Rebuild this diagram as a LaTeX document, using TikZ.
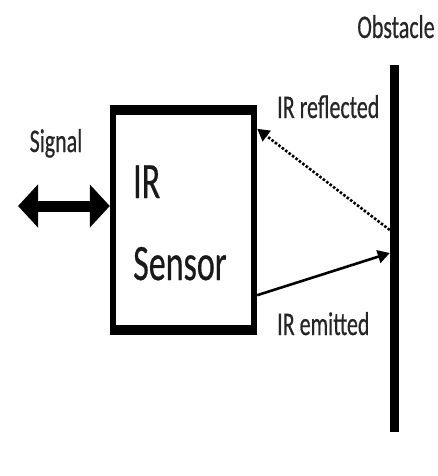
\documentclass[tikz,border=0pt]{standalone}
\usepackage{fontspec}
\usepackage{graphicx}
\setmainfont{Carlito}
\newfontfamily\lblfont{Carlito}[BoldFont={Carlito}, BoldFeatures={FakeBold=0.6}]
\usetikzlibrary{arrows.meta}
\newcommand{\vtx}[1]{\scalebox{1}[1.5]{\lblfont\bfseries #1}}
\tikzset{
  lbl/.style={inner sep=0pt, text=black!85, font=\fontsize{22}{24}\selectfont},
  biglbl/.style={inner sep=0pt, text=black!90, font=\fontsize{34}{36}\selectfont},
  sigarrow/.style={line width=11pt, {Triangle[length=20pt,width=42pt]}-{Triangle[length=20pt,width=42pt]}},
  beam/.style={line width=2.6pt, -{Triangle[length=12pt,width=13pt]}},
  dottedbeam/.style={beam, dash pattern=on 2.5pt off 1.8pt}
}
\begin{document}
\begin{tikzpicture}[x=1pt,y=-1pt]
\useasboundingbox (0,0) rectangle (438,476);
% sensor box
\node[minimum width=147pt, minimum height=230pt, inner sep=0pt] (sensor) at (183.5,220) {};
\fill[black] (sensor.south west) rectangle (sensor.north east);
\fill[white] ([xshift=6pt,yshift=-10pt]sensor.north west) rectangle ([xshift=-6pt,yshift=10pt]sensor.south east);
% obstacle bar
\node[fill=black, minimum width=9pt, minimum height=367pt, inner sep=0pt] (obstacle) at (394.5,248.5) {};
% labels
\node[lbl, anchor=base] (tobst) at (396,38) {\vtx{Obstacle}};
\node[lbl, anchor=base] (tsig) at (56,152) {\vtx{Signal}};
\node[lbl, anchor=base west] (trefl) at (277,118) {\vtx{IR reflected}};
\node[lbl, anchor=base west] (temit) at (277,335) {\vtx{IR emitted}};
\node[biglbl, anchor=base west] (tir) at (133,198) {\vtx{IR}};
\node[biglbl, anchor=base west] (tsens) at (133,280) {\vtx{Sensor}};
% connectors
\coordinate (sigend) at (18,206);
\draw[sigarrow] (sigend) -- (sensor.west |- sigend);
\draw[dottedbeam] ([yshift=18.5pt]obstacle.west) -- ([yshift=-24pt]sensor.north east);
\draw[beam] ([yshift=40pt]sensor.south east) -- ([yshift=-4.5pt]obstacle.west);
\end{tikzpicture}
\end{document}
